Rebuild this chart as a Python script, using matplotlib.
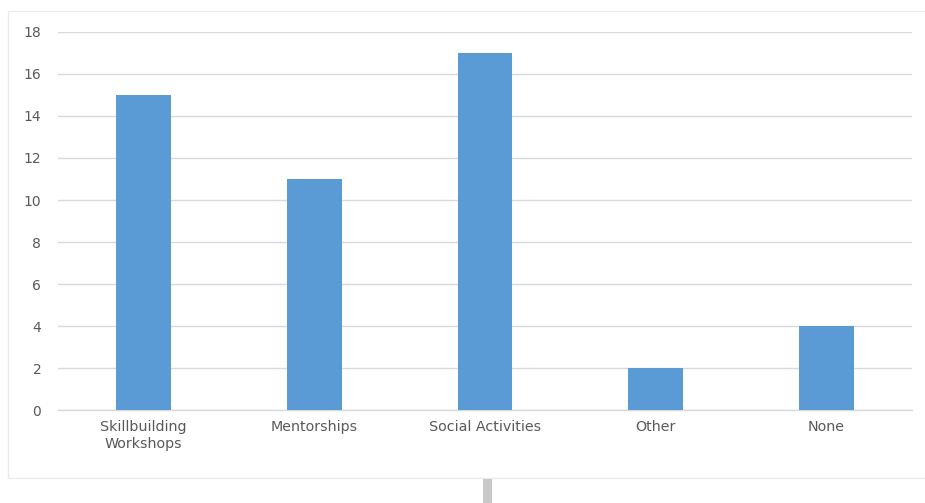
import matplotlib.pyplot as plt
from matplotlib.patches import Rectangle

categories = ["Skillbuilding\nWorkshops", "Mentorships", "Social Activities", "Other", "None"]
counts = [15, 11, 17, 2, 4]
y_ticks = [0, 2, 4, 6, 8, 10, 12, 14, 16, 18]

bar_color = "#5B9BD5"
grid_color = "#D9D9D9"
text_color = "#595959"

fig = plt.figure(figsize=(9.25, 5.03), dpi=100)
fig.patch.set_facecolor("white")

# chart frame
fig.patches.append(Rectangle((8 / 925, 1 - 478 / 503), 1.2, 467 / 503,
                             transform=fig.transFigure, fill=False,
                             edgecolor="#EBEBEB", linewidth=1.0))
# small grey marker below the chart
fig.patches.append(Rectangle((483 / 925, 0), 9 / 925, 24 / 503,
                             transform=fig.transFigure, facecolor="#C8C8C8",
                             edgecolor="none"))

ax = fig.add_axes([58 / 925, 93 / 503, 854 / 925, 378 / 503])
x = range(len(categories))
ax.bar(x, counts, width=0.32, color=bar_color, zorder=3)

ax.set_xlim(-0.5, len(categories) - 0.5)
ax.set_ylim(0, 18)
ax.set_yticks(y_ticks)
ax.set_xticks(list(x))
ax.set_xticklabels(categories, color=text_color, fontsize=10.3, linespacing=1.3)
ax.tick_params(axis="y", labelcolor=text_color, labelsize=10, length=0, pad=12)
ax.tick_params(axis="x", length=0, pad=7)
ax.grid(axis="y", color=grid_color, linewidth=1.0, zorder=0)
for s in ["top", "right", "left"]:
    ax.spines[s].set_visible(False)
ax.spines["bottom"].set_color(grid_color)
ax.spines["bottom"].set_linewidth(1.0)

fig.savefig("out.png", dpi=100)
